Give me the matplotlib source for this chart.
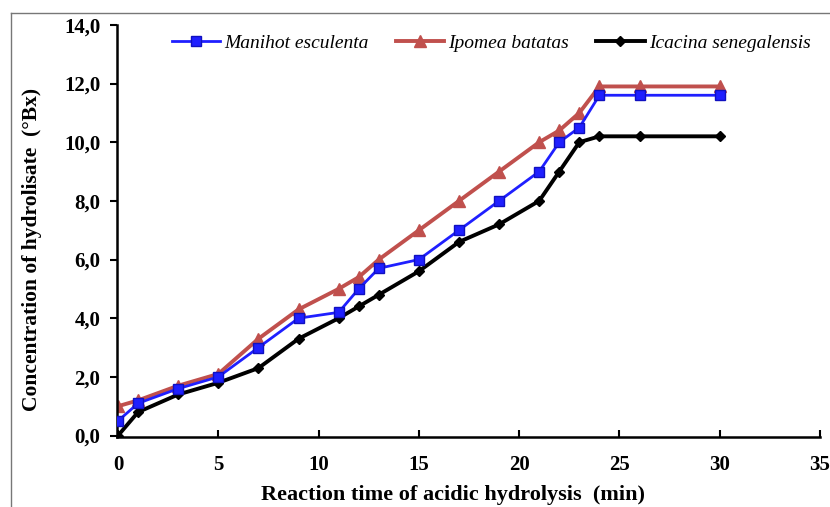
import matplotlib.pyplot as plt
from matplotlib.lines import Line2D
from matplotlib.ticker import FuncFormatter

time = [0, 1, 3, 5, 7, 9, 11, 12, 13, 15, 17, 19, 21, 22, 23, 24, 26, 30]
manihot = [0.5, 1.1, 1.6, 2.0, 3.0, 4.0, 4.2, 5.0, 5.7, 6.0, 7.0, 8.0, 9.0, 10.0, 10.5, 11.6, 11.6, 11.6]
ipomea = [1.0, 1.2, 1.7, 2.1, 3.3, 4.3, 5.0, 5.4, 6.0, 7.0, 8.0, 9.0, 10.0, 10.4, 11.0, 11.9, 11.9, 11.9]
icacina = [0.0, 0.8, 1.4, 1.8, 2.3, 3.3, 4.0, 4.4, 4.8, 5.6, 6.6, 7.2, 8.0, 9.0, 10.0, 10.2, 10.2, 10.2]
names = ["Manihot esculenta", "Ipomea batatas", "Icacina senegalensis"]

plt.rcParams["font.family"] = ["Liberation Serif", "DejaVu Serif"]

fig = plt.figure(figsize=(8.3, 5.07), dpi=100)
ax = fig.add_axes([0.141, 0.138, 0.847, 0.813])

ax.plot(time, icacina, "-D", color="black", lw=2.8, ms=5, zorder=3)
ax.plot(time, ipomea, "-^", color="#c0504d", lw=2.8, ms=9, zorder=2)
ax.plot(time, manihot, "-s", color="#1f1fff", lw=2, ms=7.5, mec="#1010c0", zorder=4)

ax.set_xticks(range(0, 36, 5))
ax.set_yticks(range(0, 15, 2))
ax.yaxis.set_major_formatter(FuncFormatter(lambda v, p: f"{v:.1f}".replace(".", ",")))
for lab in ax.get_xticklabels() + ax.get_yticklabels():
    lab.set_fontweight("bold")
    lab.set_fontsize(15)
ax.tick_params(axis="x", direction="in", length=5, width=1.5, pad=13)
ax.tick_params(axis="y", direction="out", length=5, width=1.5, pad=7)
ax.spines["top"].set_visible(False)
ax.spines["right"].set_visible(False)
ax.spines["left"].set_linewidth(1.8)
ax.spines["bottom"].set_linewidth(1.8)
ax.set_xlim(-0.05, 35)
ax.set_ylim(-0.05, 14)

ax.set_xlabel("Reaction time of acidic hydrolysis  (min)", fontsize=16, fontweight="bold")
ax.set_ylabel("Concentration of hydrolisate  (°Bx)", fontsize=15.5, fontweight="bold")
ax.xaxis.set_label_coords(0.478, -0.117)
ax.yaxis.set_label_coords(-0.107, 0.456)

handles = [
    Line2D([], [], color="#1f1fff", lw=2, marker="s", ms=7.5, mec="#1010c0"),
    Line2D([], [], color="#c0504d", lw=2.8, marker="^", ms=9),
    Line2D([], [], color="black", lw=2.8, marker="D", ms=5),
]
ax.legend(handles, names, loc="center", bbox_to_anchor=(0.532, 0.956), ncol=3, frameon=False,
          prop={"style": "italic", "size": 14}, handlelength=2.5, handletextpad=0.2, columnspacing=1.4)

fig.add_artist(Line2D([0.013, 1.0], [0.974, 0.974], color="#777777", lw=1))
fig.add_artist(Line2D([0.013, 0.013], [0.0, 0.974], color="#777777", lw=1))

fig.savefig("out.png", dpi=100)
